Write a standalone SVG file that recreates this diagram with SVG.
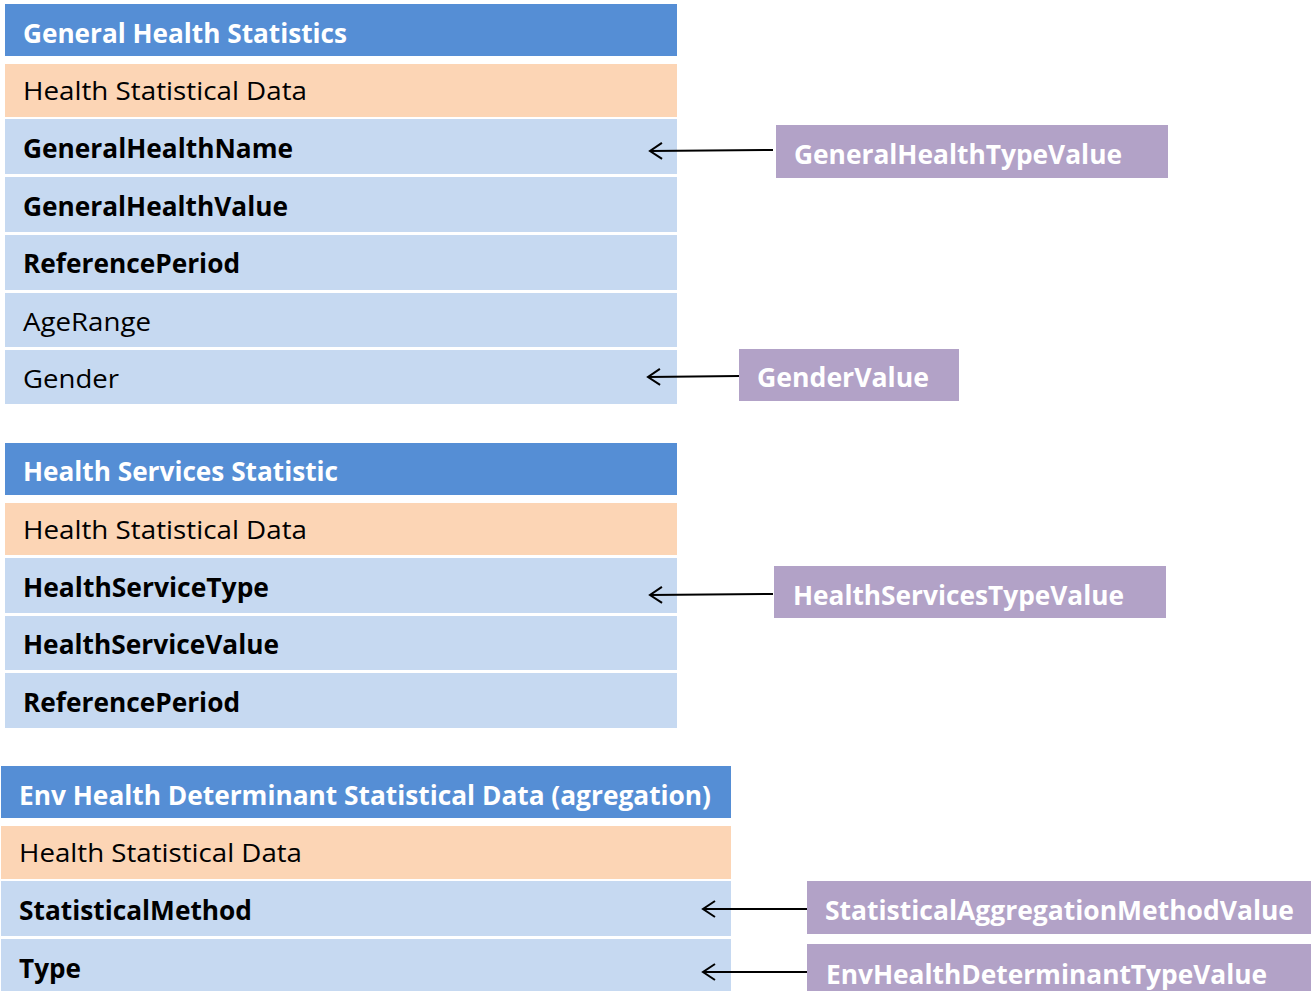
<svg xmlns="http://www.w3.org/2000/svg" width="1311" height="991" viewBox="0 0 1311 991">
<style>
.hdr{fill:#558ED5}
.org{fill:#FCD5B5}
.row{fill:#C6D9F1}
.pur{fill:#B2A2C7}
text{font-family:"Open Sans","Liberation Sans",sans-serif;font-size:26px}
.ht{fill:#fff;font-weight:bold}
.nt{fill:#000}
.bt{fill:#000;font-weight:bold}
.pt{fill:#fff;font-weight:bold}
.conn{stroke:#000;stroke-width:2;fill:none}
</style>
<defs>
<marker id="arr" markerWidth="16" markerHeight="20" refX="13" refY="10" orient="auto" markerUnits="userSpaceOnUse">
<path d="M1,2 L13,10 L1,18" fill="none" stroke="#000" stroke-width="2"/>
</marker>
</defs>
<rect width="1311" height="991" fill="#fff"/>

<g id="general-health-statistics">
<rect class="hdr" x="5" y="4" width="672" height="52"/>
<text class="ht" x="23" y="43" textLength="324" lengthAdjust="spacingAndGlyphs">General Health Statistics</text>
<rect class="org" x="5" y="64" width="672" height="53"/>
<text class="nt" x="23" y="100" textLength="284" lengthAdjust="spacingAndGlyphs">Health Statistical Data</text>
<rect class="row" x="5" y="119" width="672" height="55"/>
<text class="bt" x="23" y="158" textLength="270" lengthAdjust="spacingAndGlyphs">GeneralHealthName</text>
<rect class="row" x="5" y="177" width="672" height="55"/>
<text class="bt" x="23" y="216" textLength="265" lengthAdjust="spacingAndGlyphs">GeneralHealthValue</text>
<rect class="row" x="5" y="235" width="672" height="55"/>
<text class="bt" x="23" y="273" textLength="217" lengthAdjust="spacingAndGlyphs">ReferencePeriod</text>
<rect class="row" x="5" y="293" width="672" height="54"/>
<text class="nt" x="23" y="331" textLength="128" lengthAdjust="spacingAndGlyphs">AgeRange</text>
<rect class="row" x="5" y="350" width="672" height="54"/>
<text class="nt" x="23" y="388" textLength="96" lengthAdjust="spacingAndGlyphs">Gender</text>
</g>

<g id="health-services-statistic">
<rect class="hdr" x="5" y="443" width="672" height="52"/>
<text class="ht" x="23" y="481" textLength="315" lengthAdjust="spacingAndGlyphs">Health Services Statistic</text>
<rect class="org" x="5" y="503" width="672" height="52"/>
<text class="nt" x="23" y="539" textLength="284" lengthAdjust="spacingAndGlyphs">Health Statistical Data</text>
<rect class="row" x="5" y="558" width="672" height="55"/>
<text class="bt" x="23" y="597" textLength="246" lengthAdjust="spacingAndGlyphs">HealthServiceType</text>
<rect class="row" x="5" y="616" width="672" height="54"/>
<text class="bt" x="23" y="654" textLength="256" lengthAdjust="spacingAndGlyphs">HealthServiceValue</text>
<rect class="row" x="5" y="673" width="672" height="55"/>
<text class="bt" x="23" y="712" textLength="217" lengthAdjust="spacingAndGlyphs">ReferencePeriod</text>
</g>

<g id="env-health-determinant">
<rect class="hdr" x="1" y="766" width="730" height="52"/>
<text class="ht" x="19" y="805" textLength="692" lengthAdjust="spacingAndGlyphs">Env Health Determinant Statistical Data (agregation)</text>
<rect class="org" x="1" y="826" width="730" height="53"/>
<text class="nt" x="19" y="862" textLength="283" lengthAdjust="spacingAndGlyphs">Health Statistical Data</text>
<rect class="row" x="1" y="881" width="730" height="55"/>
<text class="bt" x="19" y="920" textLength="233" lengthAdjust="spacingAndGlyphs">StatisticalMethod</text>
<rect class="row" x="1" y="939" width="730" height="52"/>
<text class="bt" x="19" y="978" textLength="62" lengthAdjust="spacingAndGlyphs">Type</text>
</g>

<g id="general-health-type-value">
<rect class="pur" x="776" y="125" width="392" height="53"/>
<text class="pt" x="794" y="164" textLength="328" lengthAdjust="spacingAndGlyphs">GeneralHealthTypeValue</text>
</g>
<g id="gender-value">
<rect class="pur" x="739" y="349" width="220" height="52"/>
<text class="pt" x="757" y="387" textLength="172" lengthAdjust="spacingAndGlyphs">GenderValue</text>
</g>
<g id="health-services-type-value">
<rect class="pur" x="774" y="566" width="392" height="52"/>
<text class="pt" x="793" y="605" textLength="331" lengthAdjust="spacingAndGlyphs">HealthServicesTypeValue</text>
</g>
<g id="statistical-aggregation-method-value">
<rect class="pur" x="807" y="881" width="504" height="53"/>
<text class="pt" x="825" y="920" textLength="469" lengthAdjust="spacingAndGlyphs">StatisticalAggregationMethodValue</text>
</g>
<g id="env-health-determinant-type-value">
<rect class="pur" x="807" y="944" width="504" height="47"/>
<text class="pt" x="826" y="984" textLength="441" lengthAdjust="spacingAndGlyphs">EnvHealthDeterminantTypeValue</text>
</g>

<g id="connectors">
<line class="conn" x1="773" y1="150" x2="650" y2="151" marker-end="url(#arr)"/>
<line class="conn" x1="739" y1="376" x2="648" y2="377" marker-end="url(#arr)"/>
<line class="conn" x1="773" y1="594" x2="650" y2="595" marker-end="url(#arr)"/>
<line class="conn" x1="807" y1="909" x2="703" y2="909" marker-end="url(#arr)"/>
<line class="conn" x1="807" y1="972" x2="703" y2="972" marker-end="url(#arr)"/>
</g>
</svg>
